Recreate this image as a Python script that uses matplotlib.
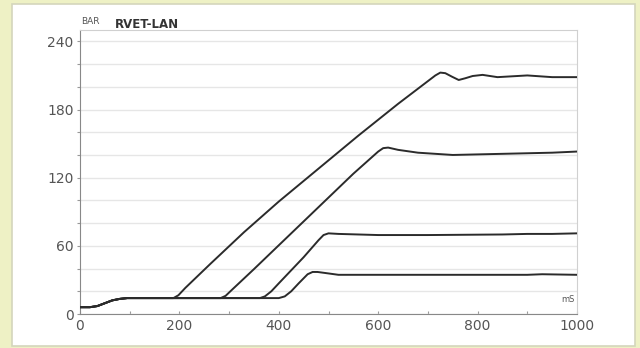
import matplotlib.pyplot as plt
from matplotlib.patches import Rectangle

# shared start of all pressure traces (ms, bar)
base_t = [0, 20, 35, 50, 65, 80, 95, 150]
base_p = [6, 6, 7, 9.5, 12, 13.3, 14, 14]

# each trace after it leaves the common baseline
t1 = [188, 198, 212, 262, 330, 400, 480, 560, 640, 700, 715, 725, 735, 748, 762, 775, 790, 810, 840, 880, 900, 950, 1000]
p1 = [14, 16.5, 23, 44, 72, 99, 128, 157, 185, 205, 210, 212.5, 212, 209, 206, 207.5, 209.5, 210.5, 208.5, 209.5, 210, 208.5, 208.5]

t2 = [283, 293, 305, 350, 400, 450, 500, 550, 600, 610, 620, 640, 680, 750, 850, 950, 1000]
p2 = [14, 16, 21, 39.5, 60.5, 81.5, 102.5, 123.5, 143, 146, 146.5, 144.5, 142, 140, 141, 142, 143]

t3 = [362, 372, 385, 400, 450, 480, 490, 500, 520, 600, 700, 850, 900, 950, 1000]
p3 = [14, 15.5, 20, 27, 50, 65, 69.5, 71, 70.5, 69.5, 69.5, 70, 70.5, 70.5, 71]

t4 = [400, 412, 425, 440, 458, 468, 478, 495, 520, 600, 900, 930, 1000]
p4 = [14, 15.5, 20, 27, 35, 37, 37, 36, 34.5, 34.5, 34.5, 35, 34.5]

y_ticks = [0, 60, 120, 180, 240]
x_ticks = [0, 200, 400, 600, 800, 1000]

fig = plt.figure(figsize=(6.4, 3.48), dpi=100)
fig.patch.set_facecolor('#eef1c5')
panel = Rectangle((12 / 640, 2 / 348), 623 / 640, 342 / 348,
                  transform=fig.transFigure, facecolor='white',
                  edgecolor='#d4d6bc', lw=1.2)
panel.set_zorder(-10)
fig.add_artist(panel)

ax = fig.add_axes([80 / 640, 1 - 314 / 348, 497 / 640, 284 / 348])
ax.set_zorder(5)
ax.set_facecolor('white')

for t, p in [(t1, p1), (t2, p2), (t3, p3), (t4, p4)]:
    ax.plot(base_t + t, base_p + p, color='#2b2b2b', lw=1.4, zorder=3,
            solid_joinstyle='round')

ax.set_xlim(0, 1000)
ax.set_ylim(0, 250)
ax.set_yticks(y_ticks)
ax.set_yticks(range(0, 250, 20), minor=True)
ax.set_xticks(x_ticks)
ax.set_xticks(range(0, 1001, 100), minor=True)
ax.grid(True, which='minor', axis='y', color='#e6e6e6', lw=1)
ax.grid(True, which='major', axis='y', color='#e6e6e6', lw=1)

ax.tick_params(axis='both', which='both', colors='#999999', labelcolor='#555555',
               labelsize=10, length=2.5, width=0.8)
ax.tick_params(axis='x', which='both', direction='in')
ax.tick_params(axis='y', which='both', direction='out', pad=2)

ax.spines['left'].set_color('#888888')
ax.spines['bottom'].set_color('#888888')
ax.spines['top'].set_color('#d0d0d0')
ax.spines['right'].set_color('#d0d0d0')

fig.text(81 / 640, 1 - 22 / 348, 'BAR', fontsize=6.5, color='#555555', va='center', zorder=6)
fig.text(115 / 640, 1 - 24 / 348, 'RVET-LAN', fontsize=8.5, fontweight='bold',
         color='#333333', va='center', zorder=6)
fig.text(575 / 640, 1 - 300 / 348, 'mS', fontsize=6, color='#555555',
         va='center', ha='right', zorder=6)

fig.savefig('out.png', dpi=100, facecolor=fig.get_facecolor())
